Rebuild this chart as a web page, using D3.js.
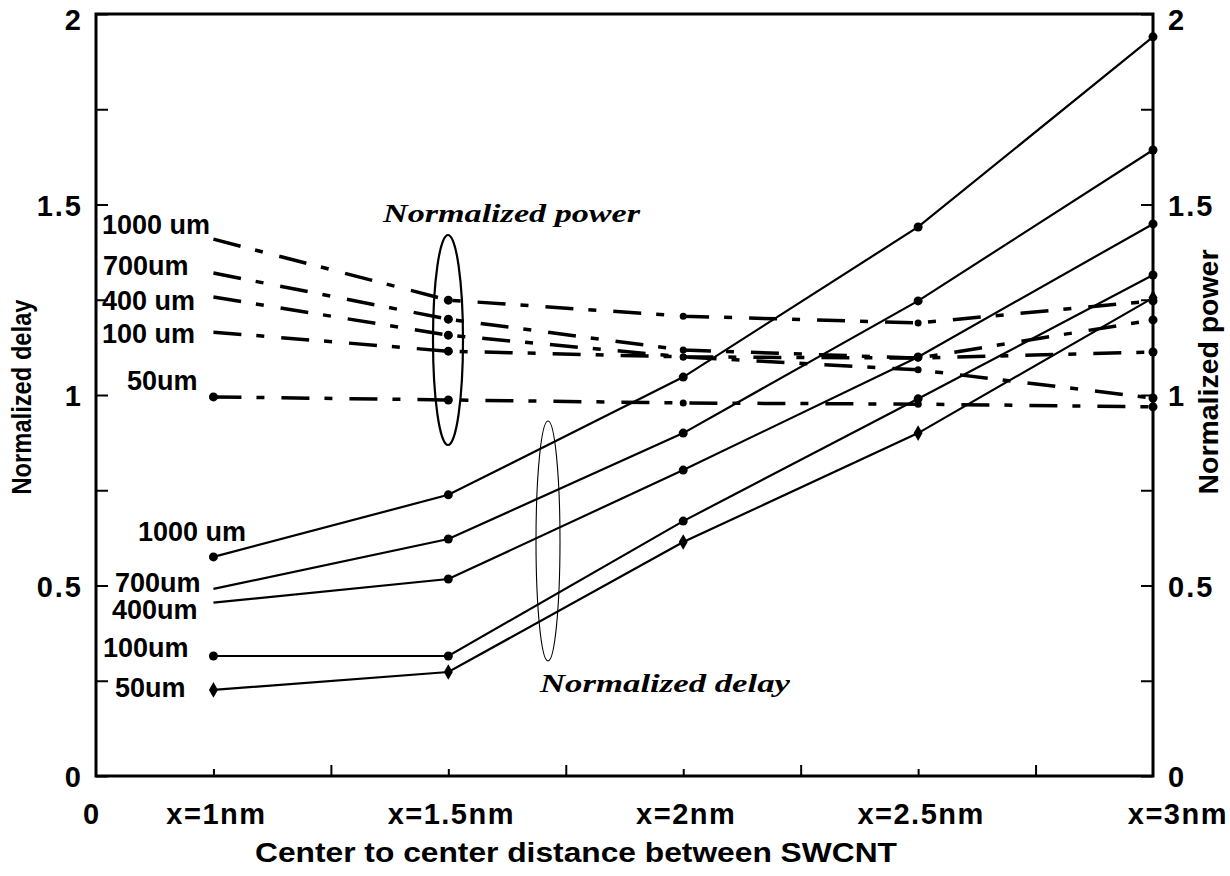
<!DOCTYPE html>
<html><head><meta charset="utf-8">
<script src="https://cdn.jsdelivr.net/npm/d3@7"></script>
<style>body{margin:0;background:#fff}</style>
</head><body>
<svg id="c" width="1230" height="876"></svg>
<script>
// ---- data ----
const categories = ["x=1nm","x=1.5nm","x=2nm","x=2.5nm","x=3nm"];
const catIndex = [1,3,5,7,9];
const yTickLabels = ["0","0.5","1","1.5","2"];
const yTickValues = [0,0.5,1,1.5,2];
const delayNames = ["1000 um","700um","400um","100um","50um"];
const powerNames = ["1000 um","700um","400 um","100 um","50um"];

const delay1000 = [0.575, 0.738, 1.047, 1.441, 1.940];
const delay700  = [0.491, 0.622, 0.900, 1.247, 1.643];
const delay400  = [0.455, 0.517, 0.803, 1.100, 1.449];
const delay100  = [0.315, 0.315, 0.669, 0.990, 1.315];
const delay50   = [0.226, 0.273, 0.614, 0.900, 1.255];

const power1000 = [1.409, 1.249, 1.207, 1.189, 1.247];
const power700  = [1.320, 1.199, 1.118, 1.097, 1.197];
const power400  = [1.257, 1.157, 1.100, 1.097, 1.113];
const power100  = [1.165, 1.115, 1.100, 1.066, 0.992];
const power50   = [0.995, 0.987, 0.979, 0.976, 0.969];

const delaySeries = [delay1000, delay700, delay400, delay100, delay50];
const powerSeries = [power1000, power700, power400, power100, power50];

// ---- drawing ----
const svg = d3.select("#c");
const L = 96, R = 1153, T = 14, B = 776;
const x = d3.scaleLinear().domain([0, 9]).range([L, R]);
const y = d3.scaleLinear().domain([0, 2]).range([B, T]);
const sans = "'Liberation Sans', Arial, sans-serif";
const serif = "'Liberation Serif', 'Times New Roman', serif";

// axes ticks
const minorY = d3.range(0, 2.001, 0.25);
svg.append("g").attr("transform", `translate(${L},0)`)
  .call(d3.axisLeft(y).tickValues(minorY).tickSize(-12).tickFormat(""))
  .call(g => g.select(".domain").remove());
svg.append("g").attr("transform", `translate(${R},0)`)
  .call(d3.axisRight(y).tickValues(minorY).tickSize(-12).tickFormat(""))
  .call(g => g.select(".domain").remove());
svg.append("g").attr("transform", `translate(0,${B})`)
  .call(d3.axisBottom(x).tickValues([2,4,6,8]).tickSize(-11).tickFormat(""))
  .call(g => g.select(".domain").remove());
svg.append("g").attr("transform", `translate(0,${B})`)
  .call(d3.axisBottom(x).tickValues([1,3,5,7]).tickSize(-7).tickFormat(""))
  .call(g => g.select(".domain").remove());
svg.selectAll(".tick line").attr("stroke", "#000").attr("stroke-width", 2);

svg.append("rect").attr("x", L).attr("y", T).attr("width", R - L).attr("height", B - T)
  .attr("fill", "none").attr("stroke", "#000").attr("stroke-width", 3);

// tick labels
yTickValues.forEach((v, i) => {
  const by = Math.max(y(v) + 11, 30);
  svg.append("text").attr("x", 83).attr("y", by).attr("text-anchor", "end")
    .attr("font-family", sans).attr("font-weight", "bold").attr("font-size", 29)
    .attr("letter-spacing", 2).text(yTickLabels[i]);
  svg.append("text").attr("x", 1168).attr("y", by).attr("text-anchor", "start")
    .attr("font-family", sans).attr("font-weight", "bold").attr("font-size", 29)
    .attr("letter-spacing", 2).text(yTickLabels[i]);
});
svg.append("text").attr("x", 91).attr("y", 824).attr("text-anchor", "middle")
  .attr("font-family", sans).attr("font-weight", "bold").attr("font-size", 29).text("0");
categories.forEach((c, i) => {
  const last = i === categories.length - 1;
  svg.append("text").attr("x", last ? 1228 : x(catIndex[i]) + 3).attr("y", 824)
    .attr("text-anchor", last ? "end" : "middle")
    .attr("font-family", sans).attr("font-weight", "bold").attr("font-size", 29)
    .attr("letter-spacing", 1.5).text(c);
});

// axis titles
svg.append("text").attr("x", 576).attr("y", 862).attr("text-anchor", "middle")
  .attr("font-family", sans).attr("font-weight", "bold").attr("font-size", 28)
  .attr("textLength", 642).attr("lengthAdjust", "spacingAndGlyphs")
  .text("Center to center distance between SWCNT");
svg.append("text").attr("transform", "translate(31,397) rotate(-90)").attr("text-anchor", "middle")
  .attr("font-family", sans).attr("font-weight", "bold").attr("font-size", 27)
  .attr("textLength", 195).attr("lengthAdjust", "spacingAndGlyphs")
  .text("Normalized delay");
svg.append("text").attr("transform", "translate(1218,372) rotate(-90)").attr("text-anchor", "middle")
  .attr("font-family", sans).attr("font-weight", "bold").attr("font-size", 27)
  .attr("textLength", 245).attr("lengthAdjust", "spacingAndGlyphs")
  .text("Normalized power");

// power lines (dash-dot)
const line = d3.line().x((d, i) => x(catIndex[i])).y(d => y(d));
powerSeries.forEach((s, k) => {
  svg.append("path").datum(s).attr("d", line).attr("fill", "none")
    .attr("stroke", "#000").attr("stroke-width", 3.5)
    .attr("stroke-dasharray", "28,15,8,17");
  s.forEach((v, i) => {
    if (i === 0 && k < 4) return;
    svg.append("circle").attr("cx", x(catIndex[i])).attr("cy", y(v))
      .attr("r", i === 0 || i === 1 || i === 4 ? 4.5 : 3.5).attr("fill", "#000");
  });
});

// delay lines (solid)
delaySeries.forEach((s, k) => {
  svg.append("path").datum(s).attr("d", line).attr("fill", "none")
    .attr("stroke", "#000").attr("stroke-width", 2.2);
  s.forEach((v, i) => {
    if (i === 0 && (k === 1 || k === 2)) return;
    if (k === 4) {
      svg.append("path").attr("d", d3.symbol(d3.symbolDiamond, 70)())
        .attr("transform", `translate(${x(catIndex[i])},${y(v)})`).attr("fill", "#000");
    } else {
      svg.append("circle").attr("cx", x(catIndex[i])).attr("cy", y(v))
        .attr("r", 4.5).attr("fill", "#000");
    }
  });
});

// ellipses
svg.append("ellipse").attr("cx", 448).attr("cy", 340).attr("rx", 15).attr("ry", 105)
  .attr("fill", "none").attr("stroke", "#000").attr("stroke-width", 2.2);
svg.append("ellipse").attr("cx", 548).attr("cy", 541).attr("rx", 12).attr("ry", 120)
  .attr("fill", "none").attr("stroke", "#000").attr("stroke-width", 1.1);

// series labels
const delayLabelPos = [[138,541],[115,592],[112,619],[103,657],[115,697]];
const powerLabelPos = [[102,234],[103,275],[102,310],[102,343],[127,390]];
delayNames.forEach((n, i) => {
  svg.append("text").attr("x", delayLabelPos[i][0]).attr("y", delayLabelPos[i][1])
    .attr("font-family", sans).attr("font-weight", "bold").attr("font-size", 27).text(n);
});
powerNames.forEach((n, i) => {
  svg.append("text").attr("x", powerLabelPos[i][0]).attr("y", powerLabelPos[i][1])
    .attr("font-family", sans).attr("font-weight", "bold").attr("font-size", 27).text(n);
});

svg.append("text").attr("x", 383).attr("y", 222)
  .attr("font-family", serif).attr("font-weight", "bold").attr("font-style", "italic")
  .attr("font-size", 26).attr("textLength", 257).attr("lengthAdjust", "spacingAndGlyphs")
  .text("Normalized power");
svg.append("text").attr("x", 540).attr("y", 692)
  .attr("font-family", serif).attr("font-weight", "bold").attr("font-style", "italic")
  .attr("font-size", 26).attr("textLength", 250).attr("lengthAdjust", "spacingAndGlyphs")
  .text("Normalized delay");
</script>
</body></html>
